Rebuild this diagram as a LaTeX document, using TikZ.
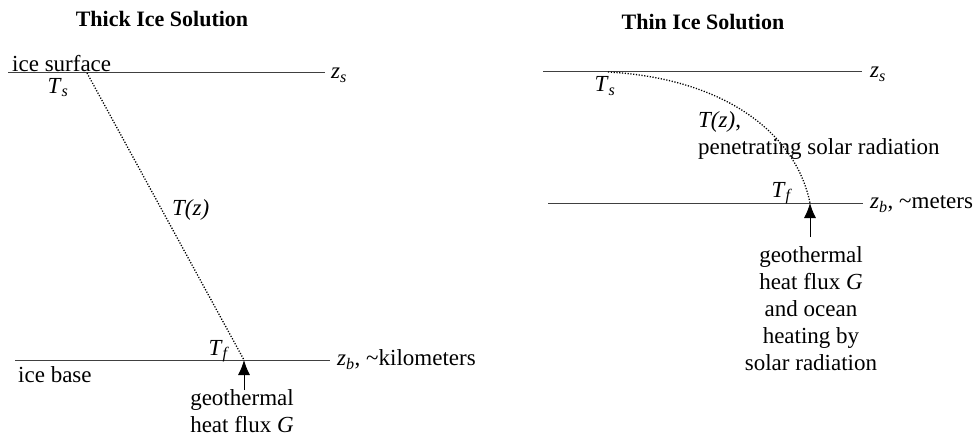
\documentclass[tikz,border=0pt]{standalone}
\usepackage{fontspec}
\setmainfont{Liberation Serif}
\usepackage{tikz}
\usetikzlibrary{arrows.meta,positioning}

\begin{document}
\begin{tikzpicture}[
  x=1pt, y=-1pt,
  txt/.style={inner sep=0pt, font=\fontsize{23}{27}\selectfont},
  ttl/.style={inner sep=0pt, font=\fontsize{22}{26}\selectfont\bfseries},
  level/.style={draw=black!75, line width=1pt},
  profile/.style={line width=1.3pt, dash pattern=on 1.2pt off 1.6pt},
  flux/.style={-{Latex[length=15pt,width=12pt]}, line width=1pt}
]
\useasboundingbox (0,0) rectangle (977,436);

% thick ice
\node[ttl, anchor=base] (titleL) at (162,27) {Thick Ice Solution};
\coordinate (surfLa) at (8,73);
\coordinate (surfLb) at (325,73);
\coordinate (baseLa) at (15,360);
\coordinate (baseLb) at (330,360);
\coordinate (TsL) at (87,73);
\coordinate (TfL) at (244,360);
\coordinate (GL) at (244,390);
\draw[level] (surfLa) -- (surfLb);
\draw[level] (baseLa) -- (baseLb);
\node[txt, anchor=base west] (surfL) at (12,71) {ice surface};
\node[txt, anchor=mid west] (zsL) at (331,76) {\textit{z}\textsubscript{\textit{s}}};
\node[txt, anchor=base] (TsLlab) at (58,93) {\textit{T}\textsubscript{\textit{s}}};
\node[txt, anchor=base west] (TzL) at (172,215) {\textit{T(z)}};
\node[txt, anchor=base] (TfLlab) at (219,355) {\textit{T}\textsubscript{\textit{f}}};
\node[txt, anchor=base west] (iceb) at (18,382) {ice base};
\node[txt, anchor=mid west] (zbL) at (337,363) {\textit{z}\textsubscript{\textit{b}}, \textasciitilde kilometers};
\node[txt, align=center, anchor=north] (geoL) at (242,389) {geothermal\\heat flux \textit{G}};
\draw[profile] (TsL) -- (TfL);
\draw[flux] (GL) -- (TfL);

% thin ice
\node[ttl, anchor=base] (titleR) at (703,30) {Thin Ice Solution};
\coordinate (surfRa) at (543,72);
\coordinate (surfRb) at (862,72);
\coordinate (baseRa) at (548,203);
\coordinate (baseRb) at (863,203);
\coordinate (TsR) at (608,72);
\coordinate (TfR) at (810,203);
\coordinate (GR) at (810,237);
\draw[level] (surfRa) -- (surfRb);
\draw[level] (baseRa) -- (baseRb);
\node[txt, anchor=mid west] (zsR) at (870,75) {\textit{z}\textsubscript{\textit{s}}};
\node[txt, anchor=base] (TsRlab) at (605,92) {\textit{T}\textsubscript{\textit{s}}};
\node[txt, anchor=north west, align=left] (TzR) at (698,111) {\textit{T(z)},\\penetrating solar radiation};
\node[txt, anchor=base] (TfRlab) at (782,197) {\textit{T}\textsubscript{\textit{f}}};
\node[txt, anchor=mid west] (zbR) at (870,206) {\textit{z}\textsubscript{\textit{b}}, \textasciitilde meters};
\node[txt, align=center, anchor=north] (geoR) at (811,246) {geothermal\\heat flux \textit{G}\\and ocean\\heating by\\solar radiation};
\draw[profile] (TsR) .. controls (720,78) and (795,130) .. (TfR);
\draw[flux] (GR) -- (TfR);
\end{tikzpicture}
\end{document}
